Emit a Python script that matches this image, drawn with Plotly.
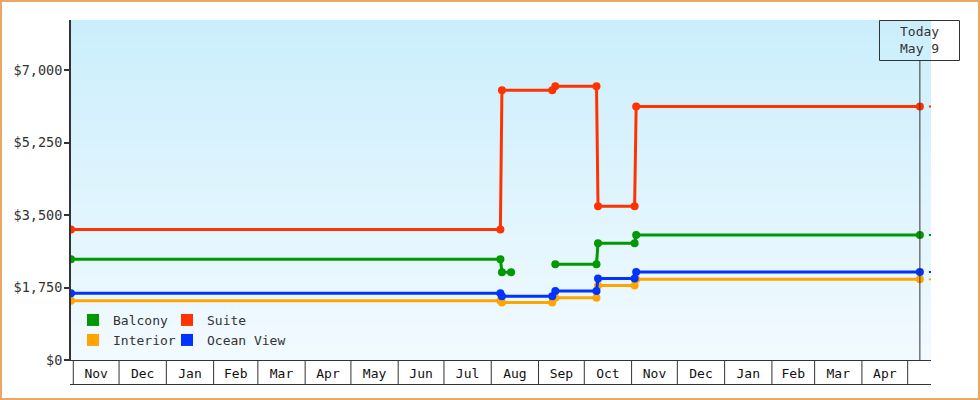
import plotly.graph_objects as go
import pandas as pd

# ---------------- data ----------------
series_names = ["Balcony", "Suite", "Interior", "Ocean View"]
series_colors = ["#009900", "#ff3300", "#ffa500", "#0033ff"]

balcony_dates = ["2023-10-30 12:00", "2024-08-07", "2024-08-08", "2024-08-14", None,
                 "2024-09-12", "2024-10-09", "2024-10-10", "2024-11-03", "2024-11-04", "2025-05-09"]
balcony_vals = [2430, 2430, 2120, 2120, None, 2310, 2310, 2820, 2820, 3020, 3020]

suite_dates = ["2023-10-30 12:00", "2024-08-07", "2024-08-08", "2024-09-10", "2024-09-12",
               "2024-10-09", "2024-10-10", "2024-11-03", "2024-11-04", "2025-05-09"]
suite_vals = [3150, 3150, 6510, 6510, 6610, 6610, 3710, 3710, 6120, 6120]

interior_dates = ["2023-10-30 12:00", "2024-08-07", "2024-08-08", "2024-09-10", "2024-09-12",
                  "2024-10-09", "2024-10-10", "2024-11-03", "2024-11-04", "2025-05-09"]
interior_vals = [1430, 1430, 1390, 1390, 1505, 1505, 1800, 1800, 1950, 1950]

ocean_dates = ["2023-10-30 12:00", "2024-08-07", "2024-08-08", "2024-09-10", "2024-09-12",
               "2024-10-09", "2024-10-10", "2024-11-03", "2024-11-04", "2025-05-09"]
ocean_vals = [1610, 1610, 1540, 1540, 1665, 1665, 1970, 1970, 2125, 2125]

y_tick_vals = [0, 1750, 3500, 5250, 7000]
y_tick_text = ["$0", "$1,750", "$3,500", "$5,250", "$7,000"]

month_labels = ["Nov", "Dec", "Jan", "Feb", "Mar", "Apr", "May", "Jun", "Jul",
                "Aug", "Sep", "Oct", "Nov", "Dec", "Jan", "Feb", "Mar", "Apr"]
first_month = "2023-11-01"

today_date = "2025-05-09"
today_text = ["Today", "May 9"]

x_start = "2023-10-30 12:00"
x_end = "2025-05-16 07:00"
y_max = 8207

# ---------------- layout constants ----------------
W, H = 980, 400
ML, MR, MT, MB = 71, 49, 20, 40
PW = W - ML - MR
PH = H - MT - MB
FONT = "DejaVu Sans Mono"
INK = "#333333"


def px_x(px):
    return (px - ML) / PW


def px_y(py):
    return (H - MB - py) / PH


fig = go.Figure()

all_series = [
    (balcony_dates, balcony_vals),
    (suite_dates, suite_vals),
    (interior_dates, interior_vals),
    (ocean_dates, ocean_vals),
]

for name, color, (xs, ys) in zip(series_names, series_colors, all_series):
    fig.add_trace(go.Scatter(
        x=xs, y=ys, mode="lines+markers", name=name,
        line=dict(color=color, width=3),
        marker=dict(color=color, size=8, symbol="circle"),
        connectgaps=False, showlegend=False, hoverinfo="skip",
    ))
    # projection stub beyond today
    last_val = [v for v in ys if v is not None][-1]
    fig.add_trace(go.Scatter(
        x=[today_date, x_end], y=[last_val, last_val], mode="lines",
        line=dict(color=color, width=2, dash="0px,9px,4px,60px"),
        showlegend=False, hoverinfo="skip",
    ))

# legend entries: one legend per entry, laid out in a 2x2 grid
legend_ids = ["legend", "legend2", "legend3", "legend4"]
for name, color, lg in zip(series_names, series_colors, legend_ids):
    fig.add_trace(go.Scatter(
        x=[None], y=[None], mode="markers", name=name,
        marker=dict(color=color, size=11, symbol="square"),
        showlegend=True, legend=lg,
    ))

legend_pos = {"legend": (73, 320), "legend2": (167, 320),
              "legend3": (73, 340), "legend4": (167, 340)}

# month boundaries / cell grid
month_starts = pd.date_range(first_month, periods=len(month_labels) + 1, freq="MS")
month_mids = [s + (e - s) / 2 for s, e in zip(month_starts[:-1], month_starts[1:])]

shapes = []
# gradient background
n_bands = 68
top_c = (203, 238, 252)
bot_c = (242, 250, 255)
for i in range(n_bands):
    t = i / (n_bands - 1)
    c = tuple(round(top_c[k] + (bot_c[k] - top_c[k]) * t) for k in range(3))
    shapes.append(dict(type="rect", xref="paper", yref="paper",
                       x0=0, x1=1, y0=1 - (i + 1) / n_bands, y1=1 - i / n_bands,
                       fillcolor="rgb(%d,%d,%d)" % c, line=dict(width=0), layer="below"))

cell_bottom = px_y(384.5)
for ms in month_starts:
    shapes.append(dict(type="line", xref="x", yref="paper",
                       x0=ms, x1=ms, y0=0, y1=cell_bottom,
                       line=dict(color=INK, width=1)))
shapes.append(dict(type="line", xref="paper", yref="paper",
                   x0=px_x(70), x1=1, y0=cell_bottom, y1=cell_bottom,
                   line=dict(color=INK, width=1)))

# today marker line and box
shapes.append(dict(type="line", xref="x", yref="paper",
                   x0=today_date, x1=today_date, y0=0, y1=px_y(60.5),
                   line=dict(color=INK, width=1)))
shapes.append(dict(type="rect", xref="paper", yref="paper",
                   x0=px_x(879.5), x1=px_x(959.5), y0=px_y(60.5), y1=px_y(20.5),
                   line=dict(color=INK, width=1), fillcolor="rgba(0,0,0,0)"))

# outer frame
shapes.append(dict(type="rect", xref="paper", yref="paper",
                   x0=px_x(1), x1=px_x(979), y0=px_y(399), y1=px_y(1),
                   line=dict(color="#e8a862", width=2), fillcolor="rgba(0,0,0,0)",
                   layer="above"))

annotations = [dict(
    x=today_date, xref="x", y=px_y(40), yref="paper",
    text="<br>".join(today_text), showarrow=False,
    font=dict(family=FONT, size=13, color=INK), align="center",
    xanchor="center", yanchor="middle",
)]

legend_common = dict(
    orientation="h", xanchor="left", yanchor="middle",
    bgcolor="rgba(0,0,0,0)", borderwidth=0,
    font=dict(family=FONT, size=13, color=INK),
    itemsizing="constant", tracegroupgap=0,
)
legend_layouts = {}
for lg, (lx, ly) in legend_pos.items():
    legend_layouts[lg] = dict(legend_common, x=px_x(lx), y=px_y(ly))

fig.update_layout(
    width=W, height=H,
    margin=dict(l=ML, r=MR, t=MT, b=MB, pad=0),
    paper_bgcolor="white",
    plot_bgcolor="#e3f5fd",
    font=dict(family=FONT, size=13, color=INK),
    shapes=shapes,
    annotations=annotations,
    xaxis=dict(
        type="date", range=[x_start, x_end],
        tickmode="array", tickvals=month_mids, ticktext=month_labels,
        ticks="", showgrid=False, zeroline=False,
        showline=True, linecolor=INK, linewidth=1,
        tickfont=dict(family=FONT, size=13, color="#111111"),
        ticklabelstandoff=1,
    ),
    yaxis=dict(
        range=[0, y_max],
        tickmode="array", tickvals=y_tick_vals, ticktext=y_tick_text,
        ticks="outside", ticklen=5, tickwidth=2, tickcolor=INK,
        showgrid=False, zeroline=False,
        showline=True, linecolor=INK, linewidth=2,
        tickfont=dict(family=FONT, size=13.5, color=INK),
        ticklabelstandoff=-1,
    ),
    showlegend=True,
    **legend_layouts,
)

fig.write_html("out.html", config={"displayModeBar": False},
               post_script="document.body.style.margin='0';")
